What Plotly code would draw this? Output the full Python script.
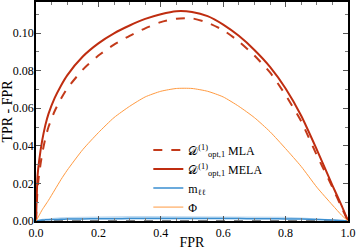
import plotly.graph_objects as go

fpr = [0, 0.005, 0.01, 0.02, 0.03, 0.04, 0.06, 0.08, 0.1, 0.15, 0.2, 0.25, 0.3, 0.35, 0.4, 0.45, 0.5,
       0.55, 0.6, 0.65, 0.7, 0.75, 0.8, 0.85, 0.9, 0.95, 0.98, 1.0]
mela = [0, 0.024, 0.032, 0.043, 0.051, 0.057, 0.0655, 0.0720, 0.0775, 0.0875, 0.0945, 0.0998, 0.1040, 0.1075, 0.1100,
        0.1116, 0.1112, 0.109, 0.1045, 0.0985, 0.091, 0.082, 0.0705, 0.056, 0.038, 0.019, 0.008, 0]
mla = [0, 0.017, 0.025, 0.036, 0.044, 0.050, 0.0585, 0.0650, 0.0705, 0.0805, 0.0880, 0.0938, 0.0985, 0.1025, 0.1058,
       0.1076, 0.1078, 0.1055, 0.1015, 0.0955, 0.088, 0.079, 0.067, 0.053, 0.035, 0.018, 0.007, 0]
phi = [0, 0.0015, 0.003, 0.006, 0.0085, 0.011, 0.0165, 0.022, 0.027, 0.038, 0.047, 0.055, 0.061, 0.066, 0.069,
       0.0705, 0.0705, 0.069, 0.066, 0.061, 0.055, 0.0475, 0.0385, 0.029, 0.018, 0.0085, 0.003, 0]
mll = [0, 0.0002, 0.0003, 0.0005, 0.0006, 0.0007, 0.0008, 0.0009, 0.0010, 0.0011, 0.0012, 0.0012, 0.0013, 0.0013, 0.0013,
       0.0013, 0.0013, 0.0013, 0.0013, 0.0013, 0.0012, 0.0012, 0.0011, 0.0010, 0.0008, 0.0005, 0.0002, 0]
mll_upper = [0, 0.0005, 0.0008, 0.0012, 0.0014, 0.0016, 0.0018, 0.0020, 0.0021, 0.0023, 0.0024, 0.0025, 0.0026, 0.0026, 0.0026,
             0.0026, 0.0026, 0.0026, 0.0026, 0.0026, 0.0025, 0.0024, 0.0022, 0.0019, 0.0015, 0.0009, 0.0004, 0]
baseline = [0.0] * len(fpr)

xticks = [0.0, 0.2, 0.4, 0.6, 0.8, 1.0]
yticks = [0.00, 0.02, 0.04, 0.06, 0.08, 0.10]

serif = "Liberation Serif"
fig = go.Figure()

fig.add_trace(go.Scatter(x=fpr, y=baseline, mode="lines", showlegend=False,
                         line=dict(color="black", width=1.2, dash="dash")))
fig.add_trace(go.Scatter(x=fpr, y=mll, mode="lines", showlegend=False,
                         line=dict(color="rgba(0,0,0,0)", width=0), hoverinfo="skip"))
fig.add_trace(go.Scatter(x=fpr, y=mll_upper, mode="lines", showlegend=False, fill="tonexty",
                         fillcolor="rgba(140,190,230,0.55)",
                         line=dict(color="rgba(0,0,0,0)", width=0), hoverinfo="skip"))
fig.add_trace(go.Scatter(x=fpr, y=mla, mode="lines", line_shape="spline", line_smoothing=0.6,
                         name="𝒟<sup>(1)</sup><sub>opt,1</sub> MLA",
                         line=dict(color="#c33a1a", width=2, dash="dash")))
fig.add_trace(go.Scatter(x=fpr, y=mela, mode="lines", line_shape="spline", line_smoothing=0.6,
                         name="𝒟<sup>(1)</sup><sub>opt,1</sub> MELA",
                         line=dict(color="#bf2d10", width=2)))
fig.add_trace(go.Scatter(x=fpr, y=mll, mode="lines", line_shape="spline", line_smoothing=0.6,
                         name="m<sub>ℓℓ</sub>",
                         line=dict(color="#3a8ed0", width=1.5)))
fig.add_trace(go.Scatter(x=fpr, y=phi, mode="lines", line_shape="spline", line_smoothing=0.6,
                         name="Φ",
                         line=dict(color="#ff9a40", width=1)))

axis_common = dict(showline=True, linecolor="black", linewidth=1.5, mirror="ticks",
                   ticks="inside", ticklen=5, tickwidth=1, tickcolor="#555",
                   showgrid=False, zeroline=False, automargin=False,
                   tickfont=dict(family=serif, size=12, color="black"))

fig.update_xaxes(range=[0, 1], tickvals=xticks, ticktext=[f"{v:.1f}" for v in xticks],
                 minor=dict(ticks="inside", ticklen=3, dtick=0.05, tickcolor="#777", showgrid=False),
                 title=dict(text="FPR", font=dict(family=serif, size=14, color="black"), standoff=2),
                 **axis_common)
fig.update_yaxes(range=[0, 0.1165], tickvals=yticks, ticktext=[f"{v:.2f}" for v in yticks],
                 minor=dict(ticks="inside", ticklen=3, dtick=0.01, tickcolor="#777", showgrid=False),
                 title=dict(text="TPR - FPR", font=dict(family=serif, size=14, color="black"), standoff=2),
                 ticklabelstandoff=-2,
                 **axis_common)

fig.update_layout(
    width=357, height=250,
    margin=dict(l=36, r=9, t=2, b=29),
    paper_bgcolor="white", plot_bgcolor="white",
    font=dict(family=serif, size=12, color="black"),
    legend=dict(x=0.36, y=0.39, xanchor="left", yanchor="top", traceorder="normal",
                bgcolor="rgba(0,0,0,0)", font=dict(family=serif, size=12, color="black"),
                tracegroupgap=0, itemwidth=30),
)

fig.write_html("out.html", config={"displayModeBar": False})

with open("out.html", "r", encoding="utf-8") as f:
    html = f.read()
html = html.replace("<head>", "<head><style>html,body{margin:0;padding:0;overflow:hidden;}</style>", 1)
with open("out.html", "w", encoding="utf-8") as f:
    f.write(html)
